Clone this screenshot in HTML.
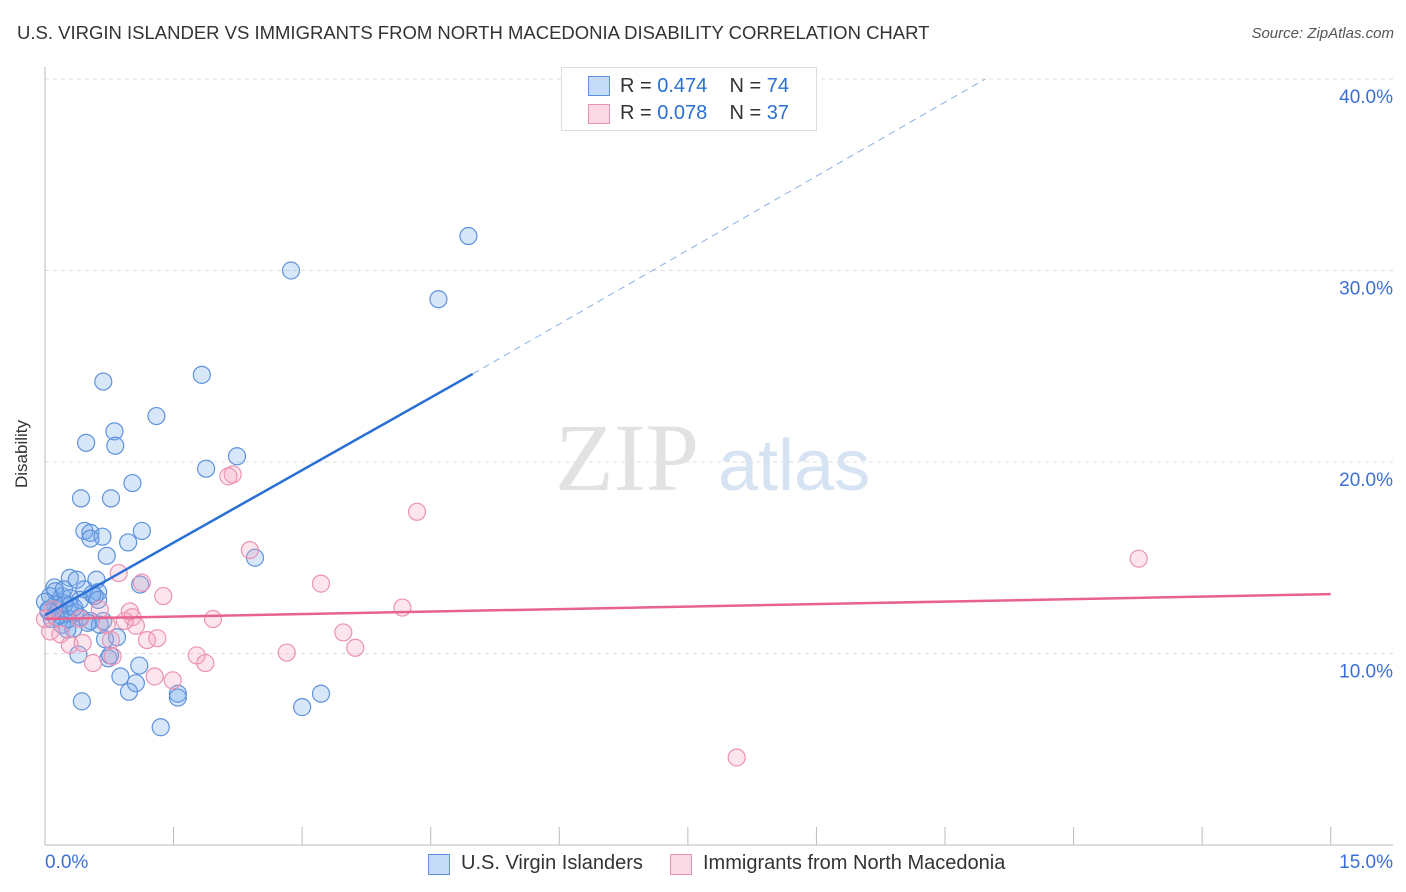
<!DOCTYPE html>
<html><head><meta charset="utf-8"><style>
body{margin:0;background:#fff;font-family:"Liberation Sans",sans-serif;}
#wrap{position:relative;width:1406px;height:892px;overflow:hidden;}
.t{position:absolute;white-space:nowrap;}
</style></head><body>
<div id="wrap">
<div class="t" style="left:17px;top:22px;font-size:18.5px;color:#333;">U.S. VIRGIN ISLANDER VS IMMIGRANTS FROM NORTH MACEDONIA DISABILITY CORRELATION CHART</div>
<div class="t" style="right:12px;top:25px;font-size:15px;color:#555;font-style:italic;">Source: ZipAtlas.com</div>
<svg id="svg" width="1406" height="892" style="position:absolute;left:0;top:0"></svg>
</div>
<script>
const blueX=[2.87,4.94,4.59,1.83,0.68,1.30,0.81,0.48,0.82,2.24,1.88,0.42,0.77,1.02,0.46,0.53,1.13,0.53,0.67,0.97,0.72,2.45,1.11,0.11,0.29,0.37,0.60,0.46,0.62,0.58,0.62,0.20,0.06,0.23,0.12,0.29,0.04,0.15,0.35,0.41,0.08,0.53,0.68,0.20,0.33,0.26,0.84,0.70,0.39,0.74,0.76,1.10,0.88,1.06,1.55,1.55,0.98,0.43,1.35,3.00,3.22,0.04,0.18,0.29,0.12,0.50,0.00,0.27,0.55,0.13,0.41,0.64,0.22,0.34];
const blueY=[30.0,31.8,28.5,24.55,24.2,22.4,21.6,21.0,20.85,20.3,19.65,18.1,18.1,18.9,16.4,16.3,16.4,16.0,16.1,15.8,15.1,15.0,13.6,13.45,13.95,13.85,13.85,13.35,13.2,13.0,12.8,13.0,13.0,12.6,12.55,12.5,12.2,12.3,12.15,11.9,11.8,11.7,11.7,11.5,11.3,11.25,10.85,10.75,9.95,9.75,9.9,9.37,8.8,8.45,7.9,7.7,8.0,7.5,6.15,7.2,7.9,12.3,12.0,12.9,13.25,11.6,12.7,11.8,13.1,11.9,12.8,11.5,13.35,12.4];
const pinkX=[8.07,12.76,4.34,2.19,2.14,2.39,3.22,1.13,0.86,1.38,4.17,1.02,0.93,1.96,1.06,0.41,0.06,0.00,0.72,0.77,1.31,1.19,0.29,0.44,3.48,3.62,2.82,1.77,1.87,0.79,0.56,1.28,1.49,0.09,0.18,0.64,0.99];
const pinkY=[4.57,14.95,17.4,19.35,19.25,15.4,13.65,13.7,14.2,13.0,12.4,11.9,11.7,11.8,11.45,11.8,11.15,11.8,11.5,10.7,10.8,10.7,10.45,10.55,11.1,10.3,10.05,9.9,9.5,9.85,9.5,8.8,8.6,12.3,11.0,12.3,12.2];
const blueTrendX=[0,4.99,10.97];
const blueTrendY=[12.0,24.6,40.0];
const pinkTrendX=[0,15];
const pinkTrendY=[11.8,13.1];
const yTicks=[10,20,30,40];
const yTickLabels=["10.0%","20.0%","30.0%","40.0%"];
const xTicks=[0,1.5,3,4.5,6,7.5,9,10.5,12,13.5,15];

const X=v=>45+v/15*1285.7;
const Y=v=>845-v*19.15;
const svg=document.getElementById('svg');
const NS='http://www.w3.org/2000/svg';
function mk(t,a){const e=document.createElementNS(NS,t);for(const k in a)e.setAttribute(k,a[k]);svg.appendChild(e);return e;}

yTicks.forEach((v,i)=>{
  const g=mk('line',{x1:45,x2:1393,y1:Y(v),y2:Y(v),stroke:'#ddd','stroke-dasharray':'4,4'});
  
  
  const t=mk('text',{x:1393,y:Y(v)+24,'text-anchor':'end','font-size':19,fill:'#3a6fd8','font-family':'Liberation Sans, sans-serif'});
  t.textContent=yTickLabels[i];
  
  
});
const ax=mk('line',{x1:45,x2:45,y1:67,y2:845,stroke:'#bbb'});


const bx=mk('line',{x1:45,x2:1393,y1:845,y2:845,stroke:'#bbb'});


xTicks.forEach(v=>{
  const l=mk('line',{x1:X(v),x2:X(v),y1:827,y2:845,stroke:'#bbb'});
  
  
});
const w1=mk('text',{x:555,y:490,'font-size':96,fill:'#e2e2e2','font-family':'Liberation Serif, serif'});
w1.textContent='ZIP';


const w2=mk('text',{x:718,y:490,'font-size':72,fill:'#d6e3f3','font-family':'Liberation Sans, sans-serif'});
w2.textContent='atlas';



blueX.forEach((v,i)=>{
  const c=mk('circle',{cx:X(v),cy:Y(blueY[i]),r:8.5,fill:'rgba(110,165,235,0.28)',stroke:'#5e93dc','stroke-width':1.2});
  
  
});
pinkX.forEach((v,i)=>{
  const c=mk('circle',{cx:X(v),cy:Y(pinkY[i]),r:8.5,fill:'rgba(245,160,190,0.28)',stroke:'#ec92b2','stroke-width':1.2});
  
  
});
const bl=mk('line',{x1:X(blueTrendX[0]),y1:Y(blueTrendY[0]),x2:X(blueTrendX[1]),y2:Y(blueTrendY[1]),stroke:'#2a6fd6','stroke-width':2.5});


const bd=mk('line',{x1:X(blueTrendX[1]),y1:Y(blueTrendY[1]),x2:X(blueTrendX[2]),y2:Y(blueTrendY[2]),stroke:'#8ab0e4','stroke-width':1,'stroke-dasharray':'7,5'});


const pl=mk('line',{x1:X(pinkTrendX[0]),y1:Y(pinkTrendY[0]),x2:X(pinkTrendX[1]),y2:Y(pinkTrendY[1]),stroke:'#e8628e','stroke-width':2.5});


</script>
<div class="t" style="left:-12px;top:444px;font-size:17px;color:#333;transform:rotate(-90deg);">Disability</div>
<div class="t" style="left:45px;top:852px;font-size:19px;color:#3a6fd8;">0.0%</div>
<div class="t" style="right:13px;top:852px;font-size:19px;color:#3a6fd8;">15.0%</div>
<div style="position:absolute;left:561px;top:67px;width:254px;height:62px;border:1px solid #ddd;background:#fff;font-size:20px;color:#333;">
 <div style="position:absolute;left:26px;top:8px;width:20px;height:18px;background:rgba(110,165,235,0.4);border:1px solid #5e93dc"></div>
 <div class="t" style="left:58px;top:7px;">R = <span style="color:#2a6fd6">0.474</span>&nbsp;&nbsp;&nbsp; N = <span style="color:#2a6fd6">74</span></div>
 <div style="position:absolute;left:26px;top:36px;width:20px;height:18px;background:rgba(245,160,190,0.4);border:1px solid #ec92b2"></div>
 <div class="t" style="left:58px;top:34px;">R = <span style="color:#2a6fd6">0.078</span>&nbsp;&nbsp;&nbsp; N = <span style="color:#2a6fd6">37</span></div>
</div>
<div style="position:absolute;left:428px;top:852px;font-size:20px;color:#333;">
 <div style="position:absolute;left:0;top:2px;width:20px;height:19px;background:rgba(110,165,235,0.4);border:1px solid #5e93dc"></div>
 <div class="t" style="left:33px;top:0px;">U.S. Virgin Islanders</div>
 <div style="position:absolute;left:242px;top:2px;width:20px;height:19px;background:rgba(245,160,190,0.4);border:1px solid #ec92b2"></div>
 <div class="t" style="left:275px;top:0px;">Immigrants from North Macedonia</div>
</div>
</body></html>
